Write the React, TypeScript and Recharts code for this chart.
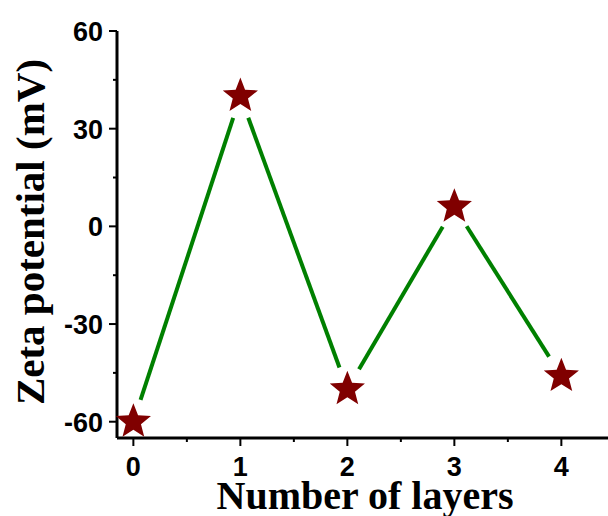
import { LineChart, Line, XAxis, YAxis } from 'recharts';

const layers = [0, 1, 2, 3, 4];
const zeta = [-60, 40, -50, 6, -46];
const xTicks = [0, 0.5, 1, 1.5, 2, 2.5, 3, 3.5, 4, 4.5];
const yTicks = [60, 45, 30, 15, 0, -15, -30, -45, -60];
const yMajor = [60, 30, 0, -30, -60];

const data = layers.map((l, i) => ({ layer: l, zeta: zeta[i] }));

const GAP = 23;

function starPath(cx: number, cy: number, R: number, r: number) {
  let d = '';
  for (let i = 0; i < 10; i++) {
    const rad = i % 2 === 0 ? R : r;
    const a = -Math.PI / 2 + (i * Math.PI) / 5;
    d += (i === 0 ? 'M' : 'L') + (cx + rad * Math.cos(a)).toFixed(2) + ',' + (cy + rad * Math.sin(a)).toFixed(2);
  }
  return d + 'Z';
}

// dot draws the gapped segment to the next point, then the star
const renderDot = (props: any) => {
  const { cx, cy, index, points } = props;
  const next = points ? points[index + 1] : null;
  let seg = null;
  if (next) {
    const dx = next.x - cx;
    const dy = next.y - cy;
    const d = Math.hypot(dx, dy);
    const ux = dx / d;
    const uy = dy / d;
    seg = (
      <line
        x1={cx + ux * GAP}
        y1={cy + uy * GAP}
        x2={next.x - ux * GAP}
        y2={next.y - uy * GAP}
        stroke="#008000"
        strokeWidth={4}
      />
    );
  }
  return (
    <g key={`dot-${index}`}>
      {seg}
      <path d={starPath(cx, cy, 18.5, 8)} fill="#800000" />
    </g>
  );
};

const XTick = (props: any) => {
  const { x, y, payload } = props;
  const major = Number.isInteger(payload.value);
  return (
    <g>
      <line x1={x} y1={y} x2={x} y2={y + (major ? 8 : 4)} stroke="#000" strokeWidth={2} />
      {major && (
        <text x={x} y={y + 38} textAnchor="middle" fontFamily="Liberation Sans, Arial" fontWeight="bold" fontSize={27} fill="#000">
          {payload.value}
        </text>
      )}
    </g>
  );
};

const TopTick = (props: any) => {
  const { x, y } = props;
  return <line x1={x} y1={y} x2={x} y2={y + 3} stroke="#000" strokeWidth={1.5} />;
};

const YTick = (props: any) => {
  const { x, y, payload } = props;
  const major = yMajor.includes(payload.value);
  return (
    <g>
      <line x1={x} y1={y} x2={x - (major ? 8 : 4)} y2={y} stroke="#000" strokeWidth={2} />
      {major && (
        <text x={x - 14} y={y + 10} textAnchor="end" fontFamily="Liberation Sans, Arial" fontWeight="bold" fontSize={27} fill="#000">
          {payload.value}
        </text>
      )}
    </g>
  );
};

export default function App() {
  return (
    <div style={{ position: 'absolute', left: 0, top: 0, width: 608, height: 516, overflow: 'hidden', background: '#fff' }}>
      <LineChart width={640} height={516} data={data} margin={{ top: 31, right: 0, left: 0, bottom: 0 }}>
        <XAxis
          dataKey="layer"
          type="number"
          domain={[-0.153, 4.735]}
          ticks={xTicks}
          interval={0}
          height={78}
          tickSize={0}
          tickMargin={0}
          tickLine={false}
          tick={<XTick />}
          axisLine={{ stroke: '#000', strokeWidth: 3 }}
          label={{
            content: (p: any) => (
              <text
                x={p.viewBox.x + 248}
                y={p.viewBox.y + 71}
                textAnchor="middle"
                fontFamily="Liberation Serif, Times New Roman"
                fontWeight="bold"
                fontSize={40}
                fill="#000"
              >
                Number of layers
              </text>
            ),
          }}
        />
        <XAxis
          xAxisId="top"
          orientation="top"
          dataKey="layer"
          type="number"
          domain={[-0.153, 4.735]}
          ticks={xTicks}
          interval={0}
          height={0}
          tickSize={0}
          tickMargin={0}
          tickLine={false}
          tick={<TopTick />}
          axisLine={{ stroke: '#000', strokeWidth: 3 }}
        />
        <YAxis
          type="number"
          domain={[-65, 60]}
          ticks={yTicks}
          interval={0}
          width={117}
          tickSize={0}
          tickMargin={0}
          tickLine={false}
          tick={<YTick />}
          axisLine={{ stroke: '#000', strokeWidth: 3 }}
          label={{
            content: (p: any) => {
              const cy = p.viewBox.y + 201;
              return (
                <text
                  x={44}
                  y={cy}
                  transform={`rotate(-90, 44, ${cy})`}
                  textAnchor="middle"
                  fontFamily="Liberation Serif, Times New Roman"
                  fontWeight="bold"
                  fontSize={41}
                  fill="#000"
                >
                  Zeta potential (mV)
                </text>
              );
            },
          }}
        />
        <Line
          dataKey="zeta"
          stroke="none"
          dot={renderDot}
          activeDot={false}
          isAnimationActive={false}
        />
      </LineChart>
    </div>
  );
}
